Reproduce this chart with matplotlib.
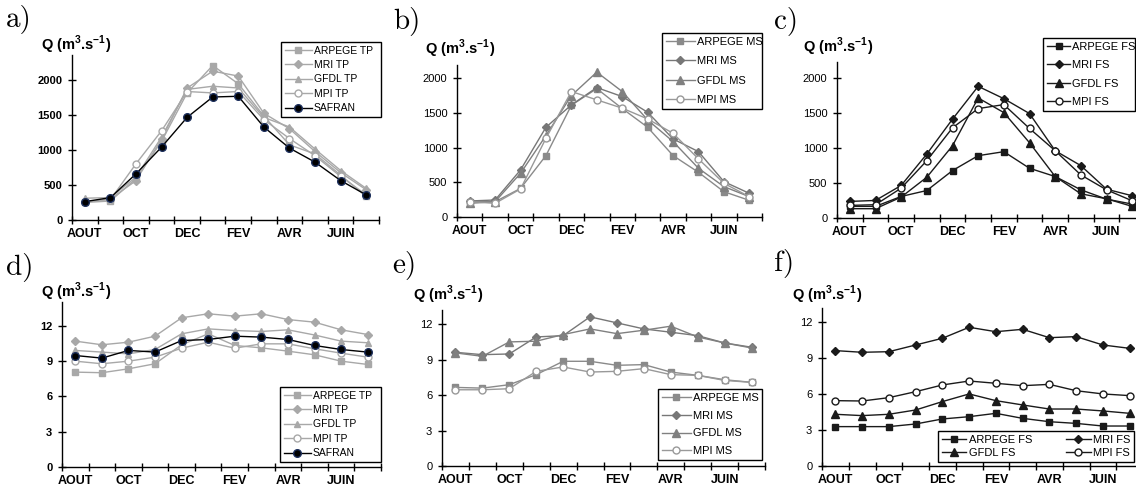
import matplotlib
matplotlib.use('Agg')
import matplotlib.pyplot as plt
import numpy as np

# months from August to July, labels shown every other month
months = ['AOUT', 'SEPT', 'OCT', 'NOV', 'DEC', 'JANV', 'FEV', 'MARS', 'AVR', 'MAI', 'JUIN', 'JUIL']

# a) 2000 m3/s scale, TP
arpege_tp_a = [250, 270, 590, 1120, 1810, 2200, 1940, 1480, 1070, 940, 640, 335]
mri_tp_a = [255, 300, 560, 1150, 1880, 2120, 2050, 1520, 1300, 975, 675, 430]
gfdl_tp_a = [310, 320, 610, 1180, 1860, 1905, 1880, 1460, 1325, 1010, 705, 450]
mpi_tp_a = [260, 290, 800, 1270, 1830, 1810, 1830, 1430, 1160, 915, 620, 360]
safran_a = [262, 318, 657, 1038, 1462, 1752, 1762, 1324, 1024, 824, 562, 357]

# b) MS
arpege_ms_b = [220, 220, 412, 885, 1610, 1850, 1563, 1293, 885, 644, 365, 240]
mri_ms_b = [231, 245, 678, 1293, 1615, 1865, 1735, 1509, 1125, 942, 510, 341]
gfdl_ms_b = [197, 221, 630, 1173, 1750, 2087, 1808, 1399, 1087, 702, 438, 293]
mpi_ms_b = [221, 197, 404, 1134, 1808, 1688, 1568, 1413, 1206, 837, 486, 293]

# c) FS
arpege_fs_c = [166, 166, 308, 393, 678, 891, 948, 711, 593, 403, 270, 199]
mri_fs_c = [237, 251, 465, 915, 1413, 1882, 1706, 1493, 962, 749, 412, 318]
gfdl_fs_c = [133, 133, 299, 583, 1033, 1716, 1507, 1076, 593, 346, 275, 166]
mpi_fs_c = [180, 190, 427, 820, 1289, 1564, 1621, 1280, 962, 616, 403, 246]

# d) TP, small basin
arpege_tp_d = [8.05, 8.0, 8.33, 8.76, 10.37, 11.3, 10.31, 10.11, 9.83, 9.52, 8.98, 8.70]
mri_tp_d = [10.68, 10.37, 10.59, 11.10, 12.66, 13.0, 12.80, 13.0, 12.51, 12.29, 11.64, 11.24]
gfdl_tp_d = [9.89, 9.75, 9.6, 9.97, 11.3, 11.72, 11.58, 11.5, 11.64, 11.2, 10.68, 10.54]
mpi_tp_d = [8.98, 8.76, 8.98, 9.32, 10.08, 10.59, 10.08, 10.45, 10.45, 10.03, 9.66, 9.32]
safran_d = [9.46, 9.24, 9.89, 9.75, 10.73, 10.82, 11.10, 11.02, 10.82, 10.31, 9.97, 9.75]

# e) MS
arpege_ms_e = [6.65, 6.59, 6.88, 7.73, 8.86, 8.86, 8.52, 8.58, 7.95, 7.67, 7.30, 7.08]
mri_ms_e = [9.62, 9.42, 9.48, 10.92, 11.03, 12.62, 12.11, 11.60, 11.32, 11.03, 10.41, 10.05]
gfdl_ms_e = [9.57, 9.28, 10.5, 10.56, 11.12, 11.6, 11.2, 11.49, 11.83, 10.92, 10.41, 9.99]
mpi_ms_e = [6.45, 6.45, 6.54, 8.01, 8.38, 7.95, 8.01, 8.24, 7.73, 7.67, 7.24, 7.08]

# f) FS
arpege_fs_f = [3.29, 3.29, 3.29, 3.51, 3.93, 4.12, 4.40, 3.98, 3.70, 3.56, 3.34, 3.34]
mri_fs_f = [9.64, 9.50, 9.55, 10.11, 10.67, 11.59, 11.22, 11.42, 10.72, 10.81, 10.11, 9.83]
gfdl_fs_f = [4.32, 4.21, 4.32, 4.68, 5.38, 6.02, 5.46, 5.10, 4.76, 4.76, 4.60, 4.40]
mpi_fs_f = [5.46, 5.43, 5.71, 6.21, 6.77, 7.10, 6.91, 6.71, 6.82, 6.29, 6.02, 5.88]

W, H = 1136, 491
SANS = ['Liberation Sans', 'DejaVu Sans']

plt.rcParams['mathtext.fontset'] = 'custom'
plt.rcParams['mathtext.rm'] = 'Liberation Sans'
plt.rcParams['mathtext.bf'] = 'Liberation Sans:bold'

fig = plt.figure(figsize=(W / 100, H / 100), dpi=100)
fig.patch.set_facecolor('white')

x = np.arange(12)

LIGHT = '#a8a8a8'
MID = '#8a8a8a'
DARK = '#1a1a1a'


def make_axes(left, right, top, bottom, ymax, yticks, bold_y):
    ax = fig.add_axes([left / W, 1 - bottom / H, (right - left) / W, (bottom - top) / H])
    ax.set_xlim(-0.5, 11.5)
    ax.set_ylim(0, ymax)
    ax.spines['top'].set_visible(False)
    ax.spines['right'].set_visible(False)
    ax.spines['left'].set_linewidth(1.0)
    ax.spines['bottom'].set_linewidth(1.0)
    ax.set_xticks(np.arange(-0.5, 12, 1))
    ax.set_xticklabels([])
    ax.set_xticks(x[::2], minor=True)
    ax.set_xticklabels(months[::2], minor=True, fontweight='bold', fontsize=9, family=SANS)
    ax.tick_params(axis='x', which='major', direction='inout', length=6, width=1)
    ax.tick_params(axis='x', which='minor', length=0, pad=6)
    ax.set_yticks(yticks)
    ax.set_yticklabels([str(t) for t in yticks], fontsize=8, family=SANS,
                       fontweight='bold' if bold_y else 'normal')
    ax.tick_params(axis='y', direction='inout', length=6, width=1, pad=4)
    return ax


def series(ax, y, marker, color, mfc=None, mec=None, ms=5, lw=1.0, label=None, z=2):
    ax.plot(x, y, color=color, marker=marker, markersize=ms, lw=lw,
            markerfacecolor=mfc if mfc else color, markeredgecolor=mec if mec else color,
            label=label, zorder=z, clip_on=False)


def add_legend(ax, x0, y0, x1, y1, spacing, ncol=1, fs=7.5, hl=2.6):
    leg = ax.legend(loc='upper left', bbox_to_anchor=(x0 / W, 1 - y1 / H, (x1 - x0) / W, (y1 - y0) / H),
                    bbox_transform=fig.transFigure, mode='expand', ncol=ncol,
                    frameon=True, fancybox=False, framealpha=1, edgecolor='black',
                    borderpad=0.35, labelspacing=spacing, handlelength=hl, handletextpad=0.2,
                    borderaxespad=0, columnspacing=0.4, prop={'family': SANS, 'size': fs})
    leg.get_frame().set_linewidth(1.0)
    leg.set_zorder(10)
    return leg


def labels(qx, qy, lx, ly, letter):
    fig.text(qx / W, 1 - qy / H, r'Q (m$^{\mathbf{3}}$.s$^{\mathbf{-1}}$)', fontweight='bold',
             fontsize=10.5, family=SANS, va='center', ha='left')
    fig.text(lx / W, 1 - ly / H, letter, fontsize=21, family='cmr10', va='center', ha='left')


# a)
ax = make_axes(72, 379, 55, 220, 2350, [0, 500, 1000, 1500, 2000], True)
series(ax, arpege_tp_a, 's', LIGHT, label='ARPEGE TP')
series(ax, mri_tp_a, 'D', LIGHT, ms=4, label='MRI TP')
series(ax, gfdl_tp_a, '^', LIGHT, label='GFDL TP')
series(ax, mpi_tp_a, 'o', LIGHT, mfc='white', label='MPI TP')
series(ax, safran_a, 'o', 'black', mec='#1c2f5c', ms=5.5, label='SAFRAN', z=3)
add_legend(ax, 281, 42, 381, 117, 0.42)
labels(41, 45, 6, 20, 'a)')

# b)
ax = make_axes(457, 762, 65, 217, 2190, [0, 500, 1000, 1500, 2000], False)
series(ax, arpege_ms_b, 's', MID, label='ARPEGE MS')
series(ax, mri_ms_b, 'D', '#777777', ms=4.5, label='MRI MS')
series(ax, gfdl_ms_b, '^', '#808080', ms=6, label='GFDL MS')
series(ax, mpi_ms_b, 'o', '#999999', mfc='white', label='MPI MS')
add_legend(ax, 662, 33, 762, 115, 0.85, fs=8)
labels(425, 49, 393, 21, 'b)')

# c)
ax = make_axes(837, 1145, 62, 218, 2230, [0, 500, 1000, 1500, 2000], False)
series(ax, arpege_fs_c, 's', DARK, label='ARPEGE FS')
series(ax, mri_fs_c, 'D', DARK, ms=4.5, label='MRI FS')
series(ax, gfdl_fs_c, '^', DARK, ms=6, label='GFDL FS')
series(ax, mpi_fs_c, 'o', DARK, mfc='white', label='MPI FS')
add_legend(ax, 1043, 38, 1135, 113, 0.75, fs=8, hl=2.1)
labels(803, 47, 774, 21, 'c)')

# d)
ax = make_axes(62, 381, 302, 467, 14, [0, 3, 6, 9, 12], True)
series(ax, arpege_tp_d, 's', LIGHT, label='ARPEGE TP')
series(ax, mri_tp_d, 'D', LIGHT, ms=4, label='MRI TP')
series(ax, gfdl_tp_d, '^', LIGHT, label='GFDL TP')
series(ax, mpi_tp_d, 'o', LIGHT, mfc='white', label='MPI TP')
series(ax, safran_d, 'o', 'black', mec='#1c2f5c', ms=5.5, label='SAFRAN', z=3)
add_legend(ax, 280, 387, 381, 463, 0.42)
labels(41, 292, 6, 267, 'd)')

# e)
ax = make_axes(442, 765, 310, 466, 13.2, [0, 3, 6, 9, 12], False)
series(ax, arpege_ms_e, 's', MID, label='ARPEGE MS')
series(ax, mri_ms_e, 'D', '#777777', ms=4.5, label='MRI MS')
series(ax, gfdl_ms_e, '^', '#808080', ms=6, label='GFDL MS')
series(ax, mpi_ms_e, 'o', '#999999', mfc='white', label='MPI MS')
add_legend(ax, 658, 389, 762, 463, 0.7, fs=8)
labels(413, 295, 392, 266, 'e)')

# f)
ax = make_axes(822, 1143, 308, 466, 13.2, [0, 3, 6, 9, 12], False)
series(ax, arpege_fs_f, 's', DARK, label='ARPEGE FS')
series(ax, gfdl_fs_f, '^', DARK, ms=6, label='GFDL FS')
series(ax, mri_fs_f, 'D', DARK, ms=4.5, label='MRI FS')
series(ax, mpi_fs_f, 'o', DARK, mfc='white', label='MPI FS')
add_legend(ax, 938, 431, 1134, 463, 0.3, ncol=2, fs=8, hl=2.2)
labels(792, 295, 774, 264, 'f)')

fig.savefig('out.png', dpi=100, facecolor='white')
